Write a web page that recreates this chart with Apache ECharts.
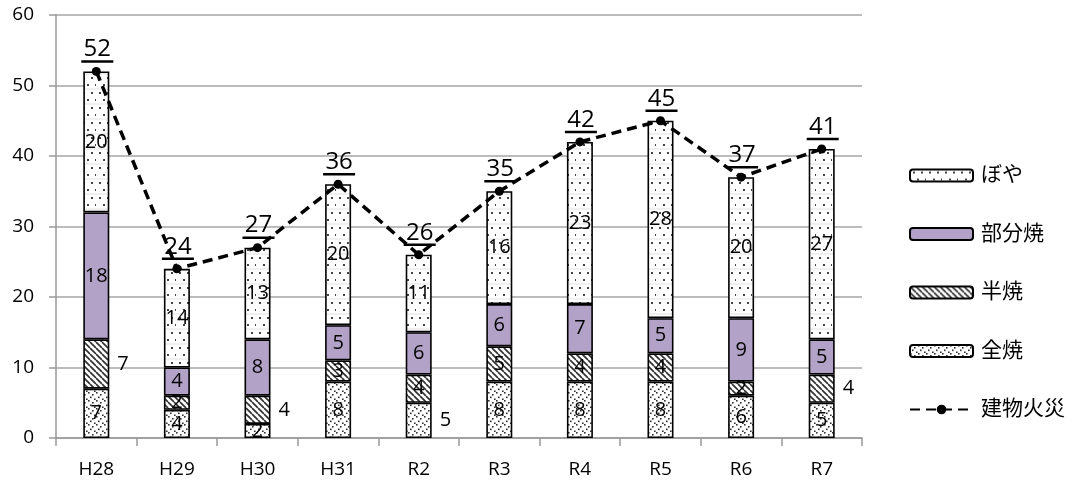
<!DOCTYPE html>
<html>
<head>
<meta charset="utf-8">
<script src="https://cdn.jsdelivr.net/npm/echarts@6/dist/echarts.min.js"></script>
<style>
html,body{margin:0;padding:0;background:#fff;}
#c{width:1074px;height:482px;}
</style>
</head>
<body>
<div id="c"></div>
<script>
const categories = ['H28','H29','H30','H31','R2','R3','R4','R5','R6','R7'];
const zenshou = [7,4,2,8,5,8,8,8,6,5];      // 全焼
const hanshou = [7,2,4,3,4,5,4,4,2,4];      // 半焼
const bubunshou = [18,4,8,5,6,6,7,5,9,5];   // 部分焼
const boya = [20,14,13,20,11,16,23,28,20,27]; // ぼや
const totals = [52,24,27,36,26,35,42,45,37,41]; // 建物火災
const yTicks = [0,10,20,30,40,50,60];

const FONT = '"Open Sans","Noto Sans CJK JP",sans-serif';

function makePattern(draw, w, h) {
  const c = document.createElement('canvas');
  c.width = w; c.height = h;
  const ctx = c.getContext('2d');
  ctx.fillStyle = '#fff';
  ctx.fillRect(0, 0, w, h);
  draw(ctx);
  return {image: c, repeat: 'repeat'};
}
const boyaPat = makePattern(ctx => {
  ctx.fillStyle = '#444';
  ctx.fillRect(3, 2, 2, 2);
  ctx.fillRect(11, 2, 2, 2);
  ctx.fillRect(7, 9, 2, 2);
  ctx.fillRect(15, 9, 1, 2);
  ctx.fillStyle = '#f0f0f0';
  ctx.fillRect(0, 13, 16, 2);
}, 16, 15);
const zenPat = makePattern(ctx => {
  ctx.fillStyle = '#333';
  ctx.fillRect(0, 0, 1.6, 1.6);
  ctx.fillRect(4, 2, 1.6, 1.6);
  ctx.fillRect(2, 4.5, 1.6, 1.6);
  ctx.fillRect(6, 6.5, 1.6, 1.6);
}, 8, 8);
const hanPat = makePattern(ctx => {
  ctx.strokeStyle = '#333';
  ctx.lineWidth = 1.7;
  for (let k = -2; k <= 2; k++) {
    ctx.beginPath();
    ctx.moveTo(k * 6, 0);
    ctx.lineTo(k * 6 + 6, 6);
    ctx.stroke();
  }
}, 6, 6);
const purple = '#B3A2C7';

function barLabel(extra) {
  return Object.assign({show: true, position: 'inside', color: '#000', fontSize: 20, fontFamily: FONT}, extra || {});
}
function withRight(arr, idxs) {
  return arr.map((v, i) => idxs.indexOf(i) >= 0 ? {value: v, label: {position: 'right', distance: 8}} : v);
}

const barCommon = {
  type: 'bar', stack: 'total', barWidth: 26,
  emphasis: {disabled: true}
};

const chart = echarts.init(document.getElementById('c'), null, {renderer: 'canvas'});
chart.setOption({
  animation: false,
  grid: {left: 56, right: 212, top: 15, bottom: 44},
  legend: {
    orient: 'vertical', left: 904, top: 160,
    itemWidth: 63, itemHeight: 12, itemGap: 37.5,
    data: ['ぼや','部分焼','半焼','全焼','建物火災'],
    textStyle: {fontSize: 21, color: '#000', fontFamily: FONT, padding: [0,0,0,3]}
  },
  xAxis: {
    type: 'category', data: categories, boundaryGap: true,
    axisLine: {lineStyle: {color: '#999', width: 1.5}},
    axisTick: {show: true, length: 8, alignWithLabel: false, lineStyle: {color: '#999', width: 1.5}},
    axisLabel: {color: '#000', fontSize: 19, fontFamily: FONT, margin: 22}
  },
  yAxis: {
    type: 'value', min: 0, max: 60, interval: 10,
    axisLine: {show: true, lineStyle: {color: '#999', width: 1.5}},
    axisTick: {show: true, length: 7, lineStyle: {color: '#999', width: 1.5}},
    splitLine: {lineStyle: {color: '#A6A6A6', width: 1.5}},
    axisLabel: {color: '#000', fontSize: 19, fontFamily: FONT, margin: 22,
      formatter: v => yTicks.indexOf(v) >= 0 ? String(v) : ''}
  },
  series: [
    Object.assign({}, barCommon, {name: '全焼', data: withRight(zenshou, [4]),
      itemStyle: {color: zenPat, borderColor: '#000', borderWidth: 1.6}, label: barLabel()}),
    Object.assign({}, barCommon, {name: '半焼', data: withRight(hanshou, [0, 2, 9]),
      itemStyle: {color: hanPat, borderColor: '#000', borderWidth: 1.6}, label: barLabel()}),
    Object.assign({}, barCommon, {name: '部分焼', data: bubunshou,
      itemStyle: {color: purple, borderColor: '#000', borderWidth: 1.6}, label: barLabel()}),
    Object.assign({}, barCommon, {name: 'ぼや', data: boya,
      itemStyle: {color: boyaPat, borderColor: '#000', borderWidth: 1.6}, label: barLabel()}),
    {
      name: '建物火災', type: 'line', data: totals, z: 5,
      symbol: 'circle', symbolSize: 9,
      itemStyle: {color: '#000'},
      lineStyle: {color: '#000', width: 3.5, type: [10, 6]},
      emphasis: {disabled: true}
    },
    {
      name: 'totalLabels', type: 'custom', z: 10,
      data: totals.map((v, i) => [i, v]),
      encode: {x: 0, y: 1},
      renderItem: function (params, api) {
        const p = api.coord([api.value(0), api.value(1)]);
        const txt = String(api.value(1));
        return {
          type: 'group',
          children: [
            {type: 'text', x: p[0] + 1, y: p[1] - 22,
              style: {text: txt, fill: '#000', font: '24px ' + FONT, align: 'center', verticalAlign: 'middle'}},
            {type: 'line', shape: {x1: p[0] - 15, y1: p[1] - 10, x2: p[0] + 17, y2: p[1] - 10},
              style: {stroke: '#000', lineWidth: 2.5}}
          ]
        };
      }
    }
  ]
});
</script>
</body>
</html>
